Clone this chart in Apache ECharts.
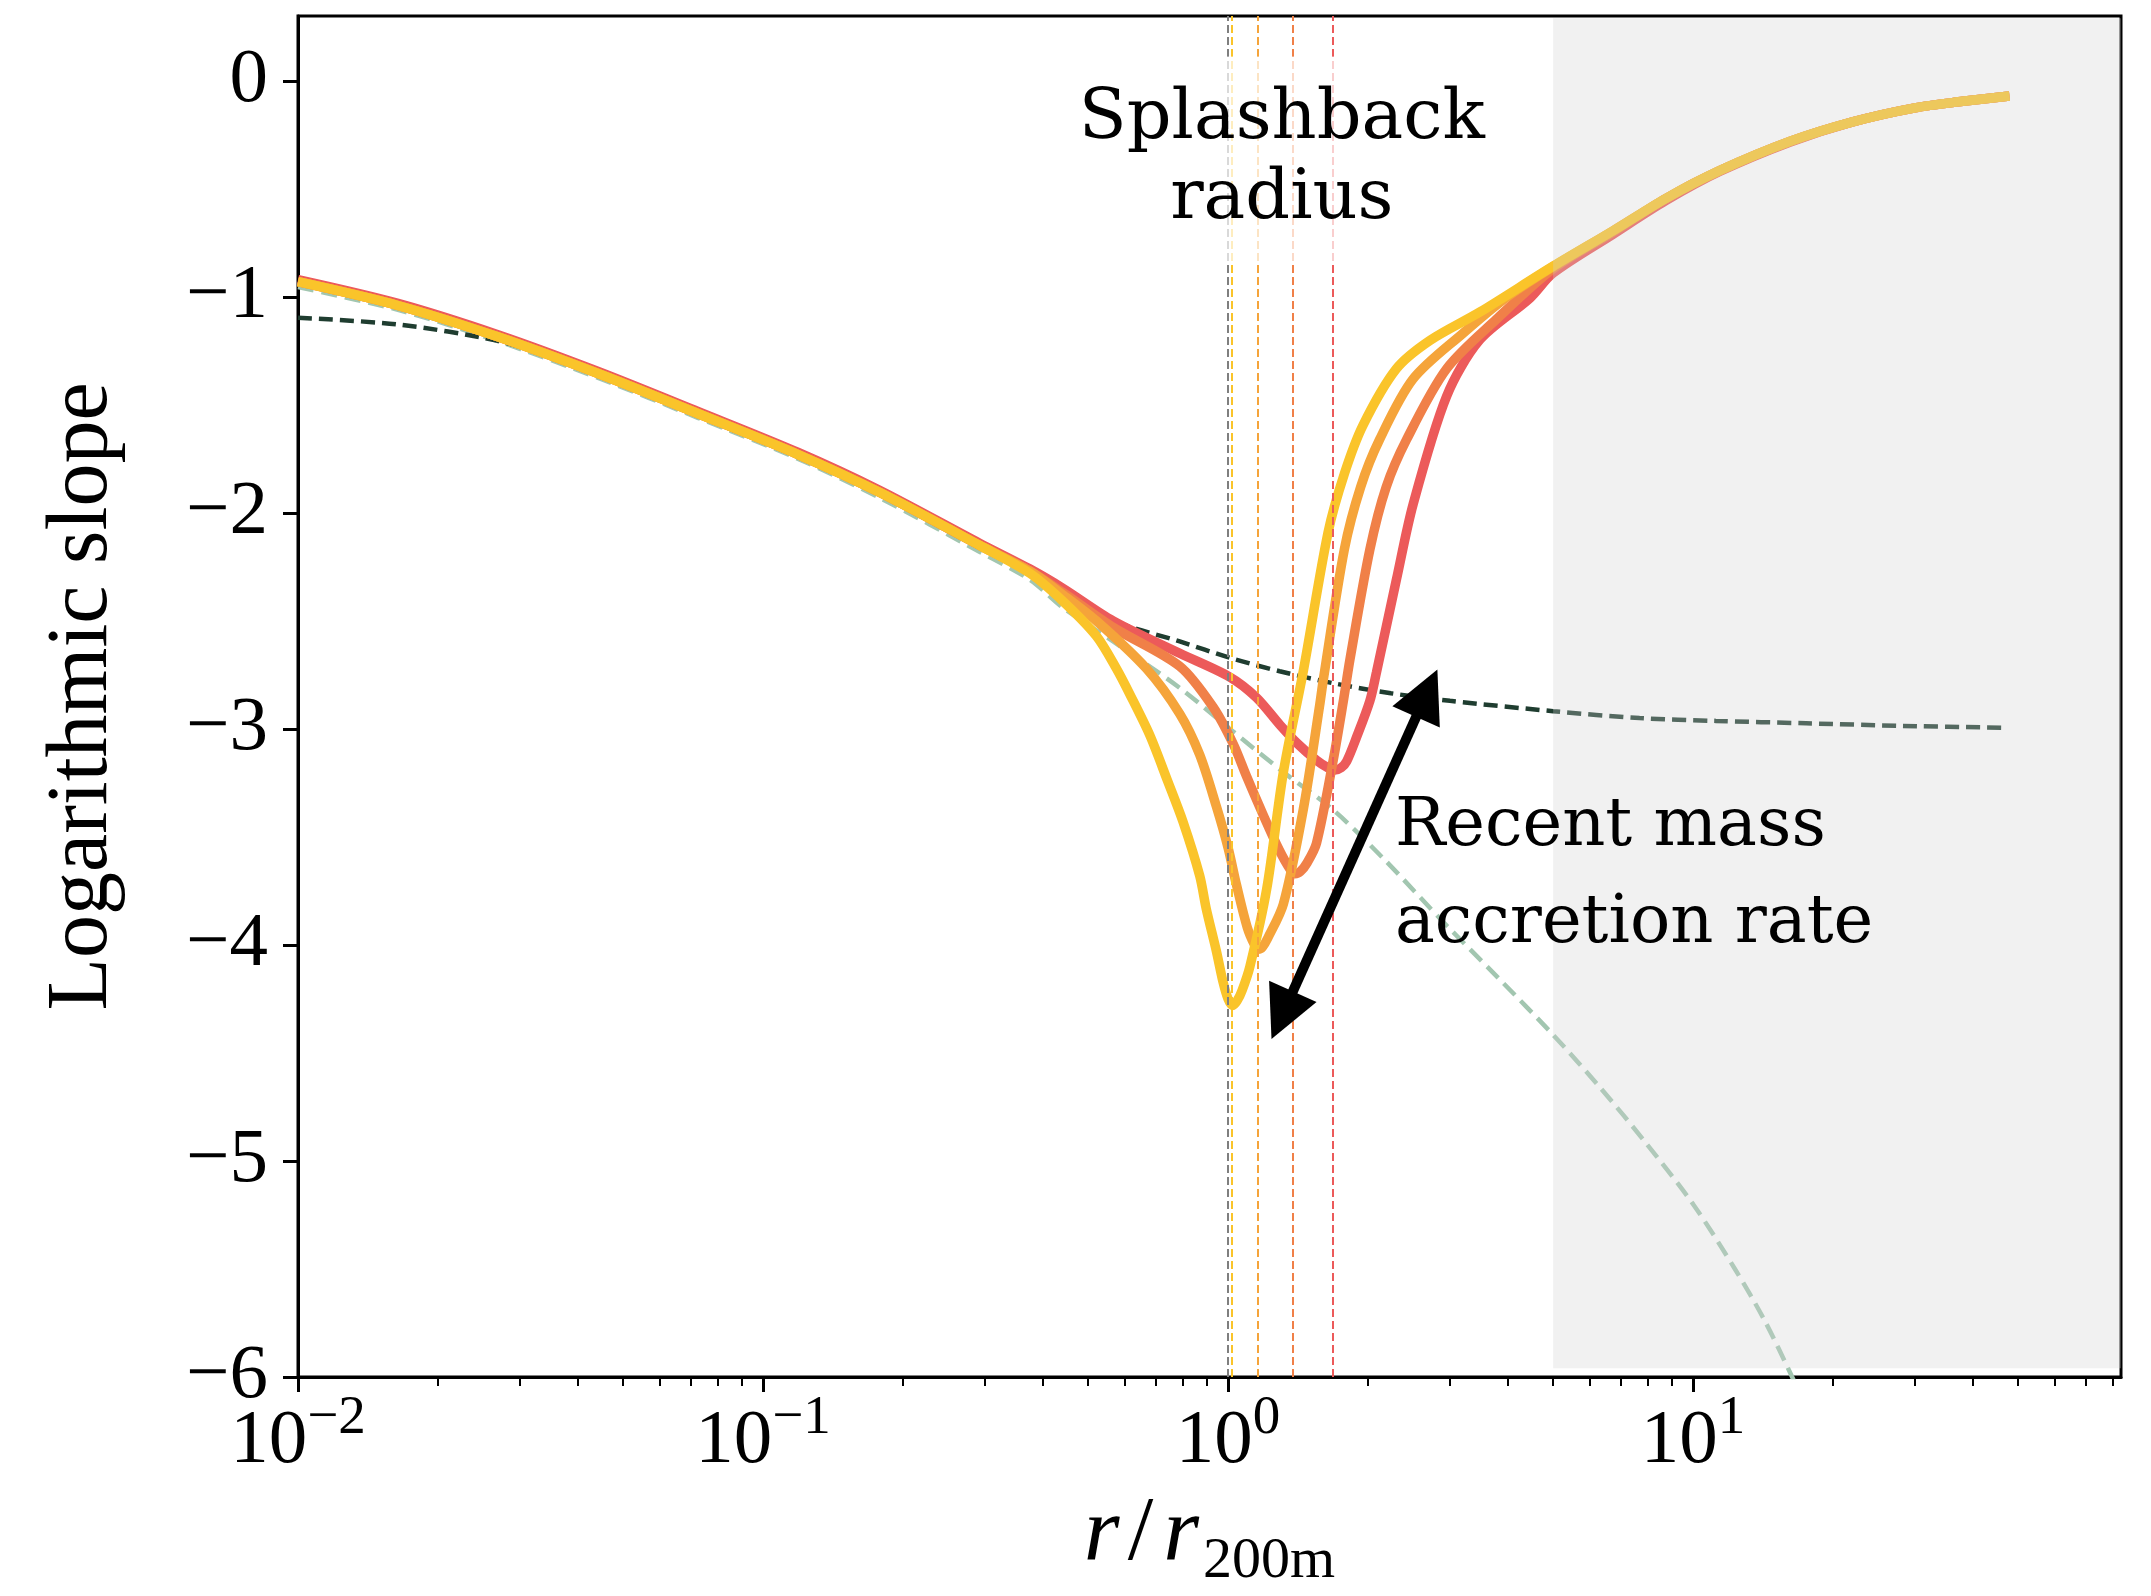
<!DOCTYPE html>
<html><head><meta charset="utf-8">
<script src="https://cdn.jsdelivr.net/npm/echarts@6/dist/echarts.min.js"></script>
<style>html,body{margin:0;padding:0;background:#fff}#c{width:2151px;height:1596px}</style>
</head><body><div id="c"></div>
<script>
const serif = '"Liberation Serif", "DejaVu Serif", serif';
const annoFamily = '"DejaVu Serif", serif';

// ---- data (x = r / r200m, y = logarithmic slope) ----
const xYellow = [0.01,0.0164,0.0269,0.0442,0.0724,0.119,0.178,0.292,0.375,0.442,0.521,0.575,0.615,0.679,0.741,0.800,0.869,0.897,0.944,0.975,1.0,1.023,1.045,1.072,1.114,1.211,1.315,1.452,1.641,1.778,1.950,2.301,2.716,3.475,5.0,6.73,8.73,11.40,16.18,22.03,30.0,38.0,47.9];
const yYellow = [-0.93,-1.04,-1.185,-1.355,-1.54,-1.73,-1.905,-2.15,-2.28,-2.41,-2.57,-2.72,-2.84,-3.03,-3.24,-3.43,-3.68,-3.83,-4.03,-4.17,-4.25,-4.28,-4.26,-4.21,-4.10,-3.74,-3.20,-2.73,-2.09,-1.82,-1.595,-1.333,-1.202,-1.071,-0.858,-0.694,-0.545,-0.416,-0.28,-0.19,-0.125,-0.095,-0.07];

const xOrange = [0.01,0.0164,0.0269,0.0442,0.0724,0.119,0.178,0.292,0.375,0.442,0.521,0.667,0.787,0.869,0.944,1.0,1.042,1.100,1.140,1.161,1.185,1.216,1.315,1.452,1.574,1.603,1.778,1.928,2.118,2.500,3.199,3.981,5.0,6.73,8.73,11.40,16.18,22.03,30.0,38.0,47.9];
const yOrange = [-0.93,-1.04,-1.185,-1.355,-1.54,-1.73,-1.905,-2.15,-2.27,-2.38,-2.50,-2.72,-2.93,-3.12,-3.36,-3.55,-3.72,-3.92,-4.00,-4.02,-4.01,-3.97,-3.81,-3.37,-2.89,-2.77,-2.17,-1.88,-1.66,-1.38,-1.169,-1.0,-0.86,-0.694,-0.545,-0.416,-0.28,-0.19,-0.125,-0.095,-0.07];

const xOrangeRed = [0.01,0.0164,0.0269,0.0442,0.0724,0.119,0.178,0.292,0.375,0.442,0.566,0.787,0.929,1.026,1.096,1.191,1.288,1.360,1.393,1.430,1.479,1.549,1.683,1.770,1.828,2.018,2.188,2.421,2.951,3.776,5.0,6.73,8.73,11.40,16.18,22.03,30.0,38.0,47.9];
const yOrangeRed = [-0.93,-1.04,-1.185,-1.355,-1.54,-1.73,-1.905,-2.15,-2.27,-2.37,-2.53,-2.71,-2.90,-3.07,-3.22,-3.40,-3.56,-3.65,-3.67,-3.66,-3.62,-3.53,-3.145,-2.87,-2.68,-2.17,-1.88,-1.66,-1.333,-1.104,-0.87,-0.70,-0.545,-0.416,-0.28,-0.19,-0.125,-0.095,-0.07];

const xRed = [0.01,0.0164,0.0269,0.0442,0.0724,0.119,0.178,0.292,0.375,0.442,0.566,0.787,1.009,1.151,1.291,1.413,1.549,1.640,1.698,1.750,1.799,1.888,2.018,2.084,2.301,2.500,2.951,3.475,4.457,5.0,6.73,8.73,11.40,16.18,22.03,30.0,38.0,47.9];
const yRed = [-0.92,-1.03,-1.175,-1.345,-1.53,-1.72,-1.895,-2.14,-2.26,-2.35,-2.50,-2.65,-2.76,-2.855,-2.98,-3.07,-3.145,-3.18,-3.19,-3.18,-3.15,-3.04,-2.87,-2.74,-2.31,-1.96,-1.46,-1.20,-1.006,-0.89,-0.71,-0.555,-0.42,-0.283,-0.19,-0.125,-0.095,-0.07];

const xOuter = [0.01,0.0164,0.0269,0.0371,0.0442,0.0724,0.119,0.178,0.292,0.375,0.442,0.566,0.787,1.009,1.291,1.698,2.239,3.0,5.0,7.67,11.2,17.5,28.2,47.2];
const yOuter = [-1.097,-1.128,-1.204,-1.296,-1.36,-1.55,-1.74,-1.915,-2.16,-2.28,-2.37,-2.50,-2.595,-2.671,-2.733,-2.79,-2.835,-2.87,-2.918,-2.95,-2.963,-2.974,-2.986,-2.995];

const xInner = [0.01,0.0164,0.0269,0.0442,0.0724,0.119,0.178,0.292,0.375,0.442,0.566,0.787,1.009,1.315,1.683,2.158,2.951,3.80,5.02,6.31,7.94,10.0,12.3,14.26,16.33,18.2];
const yInner = [-0.955,-1.06,-1.205,-1.375,-1.56,-1.75,-1.93,-2.18,-2.31,-2.44,-2.595,-2.81,-3.00,-3.20,-3.375,-3.60,-3.91,-4.15,-4.42,-4.66,-4.92,-5.20,-5.50,-5.74,-6.0,-6.22];

const splashbackRadii = [1.0, 1.017, 1.16, 1.38, 1.68];
const splashbackColors = ['#7f7f7f', '#fac42a', '#f5a43a', '#f08048', '#ec5a5a'];

const majorTicksX = [0.01, 0.1, 1, 10];
const minorTicksX = [0.02,0.03,0.04,0.05,0.06,0.07,0.08,0.09,0.2,0.3,0.4,0.5,0.6,0.7,0.8,0.9,2,3,4,5,6,7,8,9,20,30,40,50,60,70,80];
const yTicks = [-6,-5,-4,-3,-2,-1,0];
const shadeX = [5, 85.5];
const shadeY = [-5.96, 0.29];

const arrowFrom = [1.240, -4.435];
const arrowTo = [2.819, -2.725];
const splashLabelAt = [1.305, -0.364];
const accretionLabelAt = [2.284, -3.681];

function zip(xs, ys) { return xs.map((x, i) => [x, ys[i]]); }
function curve(name, xs, ys, color) {
  return { type: 'line', name, data: zip(xs, ys), symbol: 'none', showSymbol: false, smooth: 0.3,
    lineStyle: { color, width: 9.5 }, silent: true, z: 2 };
}
function dashed(name, xs, ys, color, dash, w) {
  return { type: 'line', name, data: zip(xs, ys), symbol: 'none', showSymbol: false, smooth: 0.3,
    lineStyle: { color, width: w, type: dash }, silent: true, z: 2 };
}

const chart = echarts.init(document.getElementById('c'), null, { renderer: 'canvas' });

const xFmt = v => {
  const e = Math.round(Math.log10(v));
  return '{b|10}{s|' + (e < 0 ? '\u2212' + (-e) : String(e)) + '}';
};

chart.setOption({
  animation: false,
  backgroundColor: '#fff',
  textStyle: { fontFamily: serif },
  grid: { left: 298, right: 30, top: 16, bottom: 207, show: true, borderColor: '#000', borderWidth: 3, backgroundColor: 'transparent' },
  xAxis: [{
    type: 'log', logBase: 10, min: 0.01, max: 83.2, position: 'bottom',
    axisLine: { show: true, onZero: false, lineStyle: { color: '#000', width: 3 } },
    axisTick: { show: true, length: 15, lineStyle: { color: '#000', width: 3 }, customValues: majorTicksX },
    axisLabel: {
      customValues: majorTicksX, margin: 14, color: '#000', formatter: xFmt,
      rich: {
        b: { fontSize: 77, fontFamily: serif, color: '#000', verticalAlign: 'bottom' },
        s: { fontSize: 55, fontFamily: serif, color: '#000', verticalAlign: 'bottom', padding: [0, 0, 34, 0] }
      }
    },
    splitLine: { show: false }, minorTick: { show: false },
    name: '{i|r}{n|/}{i|r}{sub|200m}', nameLocation: 'middle', nameGap: 112,
    nameTextStyle: {
      rich: {
        i: { fontSize: 92, fontFamily: serif, fontStyle: 'italic', color: '#000', verticalAlign: 'top' },
        n: { fontSize: 92, fontFamily: serif, color: '#000', verticalAlign: 'top', padding: [0, 10, 0, 8] },
        sub: { fontSize: 58, fontFamily: serif, color: '#000', verticalAlign: 'top', padding: [44, 0, 0, 4] }
      }
    }
  }, {
    type: 'log', logBase: 10, min: 0.01, max: 83.2, position: 'bottom', gridIndex: 0,
    axisLine: { show: false, onZero: false },
    axisTick: { show: true, length: 9, lineStyle: { color: '#000', width: 2 }, customValues: minorTicksX },
    axisLabel: { show: false }, splitLine: { show: false }
  }],
  yAxis: {
    type: 'value', min: -6, max: 0.3,
    axisLine: { show: true, onZero: false, lineStyle: { color: '#000', width: 3 } },
    axisTick: { show: true, length: 15, lineStyle: { color: '#000', width: 3 }, customValues: yTicks },
    axisLabel: { customValues: yTicks, margin: 30, fontSize: 77, fontFamily: serif, color: '#000',
      formatter: v => (v < 0 ? '\u2212' + (-v) : String(v)) },
    splitLine: { show: false },
    name: 'Logarithmic slope', nameLocation: 'middle', nameGap: 172,
    nameTextStyle: { fontSize: 86, fontFamily: serif, color: '#000', lineHeight: 86 }
  },
  series: [
    dashed('inner', xInner, yInner, '#a2c6b0', [16, 8], 4.5),
    dashed('outer', xOuter, yOuter, '#1f3d30', [14, 7], 4.5),
    curve('red', xRed, yRed, '#ec5a5a'),
    curve('orangered', xOrangeRed, yOrangeRed, '#f08048'),
    curve('orange', xOrange, yOrange, '#f5a43a'),
    curve('yellow', xYellow, yYellow, '#fac42a'),
    {
      type: 'line', name: 'rsp', data: [], silent: true, z: 3,
      markLine: {
        silent: true, symbol: ['none', 'none'], label: { show: false }, animation: false,
        data: splashbackRadii.map((x, i) => ({ xAxis: x, lineStyle: { color: splashbackColors[i], width: 2, type: [8, 4] } }))
      }
    },
    {
      type: 'line', name: 'shade', data: [], silent: true, clip: false, z: 10,
      markArea: {
        silent: true, z: 10, animation: false,
        itemStyle: { color: 'rgba(210,210,210,0.3)' },
        data: [[{ coord: [shadeX[0], shadeY[0]] }, { coord: [shadeX[1], shadeY[1]] }]]
      }
    }
  ]
});

const P = pt => chart.convertToPixel({ xAxisIndex: 0, yAxisIndex: 0 }, pt);
const a = P(arrowFrom), b = P(arrowTo);
const dx = b[0] - a[0], dy = b[1] - a[1], len = Math.hypot(dx, dy);
const ux = dx / len, uy = dy / len, nx = -uy, ny = ux;
const HL = 52, HW = 26;
function head(tip, sx, sy) {
  const bx = tip[0] - sx * HL, by = tip[1] - sy * HL;
  return [[tip[0], tip[1]], [bx + nx * HW, by + ny * HW], [bx - nx * HW, by - ny * HW]];
}
const s = P(splashLabelAt), r = P(accretionLabelAt);
chart.setOption({
  graphic: [
    { type: 'line', z: 100, silent: true,
      shape: { x1: a[0] + ux * HL * 0.8, y1: a[1] + uy * HL * 0.8, x2: b[0] - ux * HL * 0.8, y2: b[1] - uy * HL * 0.8 },
      style: { stroke: '#000', lineWidth: 10 } },
    { type: 'polygon', z: 100, silent: true, shape: { points: head(b, ux, uy) }, style: { fill: '#000' } },
    { type: 'polygon', z: 100, silent: true, shape: { points: head(a, -ux, -uy) }, style: { fill: '#000' } },
    { type: 'text', z: 100, silent: true, x: s[0], y: s[1],
      style: { text: 'Splashback\nradius', font: '70px ' + annoFamily, fill: '#000', align: 'center', verticalAlign: 'middle',
        lineHeight: 80, backgroundColor: 'rgba(255,255,255,0.7)', padding: [29, 12, 17, 12] } },
    { type: 'text', z: 100, silent: true, x: r[0], y: r[1],
      style: { text: 'Recent mass\naccretion rate', font: '67px ' + annoFamily, fill: '#000', align: 'left', verticalAlign: 'middle',
        lineHeight: 97 } }
  ]
});
</script>
</body></html>
